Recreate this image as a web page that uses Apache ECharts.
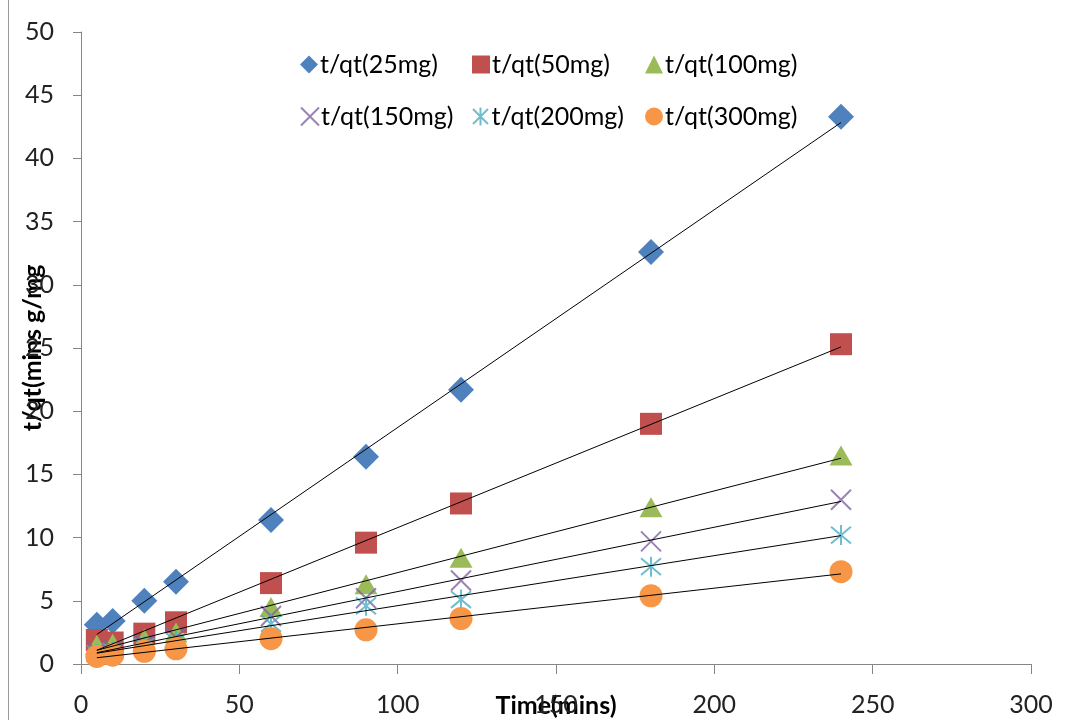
<!DOCTYPE html>
<html>
<head>
<meta charset="utf-8">
<script src="https://cdn.jsdelivr.net/npm/echarts@6/dist/echarts.min.js"></script>
<style>
  html, body { margin: 0; padding: 0; background: #fff; }
  #chart { width: 1070px; height: 720px; }
</style>
</head>
<body>
<div id="chart"></div>
<script>
// 数据
var times = [5, 10, 20, 30, 60, 90, 120, 180, 240];
var names = ['t/qt(25mg)', 't/qt(50mg)', 't/qt(100mg)', 't/qt(150mg)', 't/qt(200mg)', 't/qt(300mg)'];
var s25 = [3.1, 3.4, 5.0, 6.5, 11.4, 16.4, 21.7, 32.6, 43.3];
var s50 = [1.9, 1.7, 2.4, 3.3, 6.4, 9.6, 12.7, 19.0, 25.3];
var s100 = [1.5, 1.6, 2.0, 2.5, 4.5, 6.3, 8.4, 12.4, 16.5];
var s150 = [1.0, 1.2, 1.6, 2.1, 3.8, 5.2, 6.6, 9.7, 13.0];
var s200 = [0.8, 1.0, 1.4, 1.8, 3.2, 4.6, 5.1, 7.7, 10.2];
var s300 = [0.6, 0.7, 1.0, 1.2, 2.0, 2.7, 3.6, 5.4, 7.3];
var allValues = [s25, s50, s100, s150, s200, s300];

var colors = ['#4F81BD', '#C0504D', '#9BBB59', '#8064A2', '#4BACC6', '#F79646'];
var symbols = ['diamond', 'rect', 'triangle',
  'path://M0,0L10,10M10,0L0,10',
  'path://M0,0L10,10M10,0L0,10M5,-1L5,11',
  'circle'];
var sizes = [26, 22, [23, 20], 20, 20, 23];
var legendPos = [[295, 47], [467, 47], [640, 47], [295, 99], [467, 99], [640, 99]];

var font = 'Lato, "Open Sans", sans-serif';

//线性趋势线（最小二乘）
function trend(xs, ys) {
  var n = xs.length, sx = 0, sy = 0, sxy = 0, sxx = 0;
  for (var i = 0; i < n; i++) {
    sx += xs[i]; sy += ys[i]; sxy += xs[i] * ys[i]; sxx += xs[i] * xs[i];
  }
  var k = (n * sxy - sx * sy) / (n * sxx - sx * sx);
  var b = (sy - k * sx) / n;
  var x0 = xs[0], x1 = xs[n - 1];
  return [[x0, k * x0 + b], [x1, k * x1 + b]];
}

var series = [];
allValues.forEach(function (vals, i) {
  var isLine = i === 3 || i === 4;
  series.push({
    name: names[i],
    type: 'scatter',
    symbol: symbols[i],
    symbolSize: sizes[i],
    itemStyle: isLine
      ? { color: 'rgba(0,0,0,0)', borderColor: colors[i], borderWidth: 2 }
      : { color: colors[i], opacity: 1 },
    data: times.map(function (t, j) { return [t, vals[j]]; }),
    z: 2
  });
});
allValues.forEach(function (vals) {
  series.push({
    type: 'line',
    data: trend(times, vals),
    showSymbol: false,
    symbol: 'none',
    silent: true,
    lineStyle: { color: '#000', width: 1 },
    z: 3
  });
});

var legends = names.map(function (n, i) {
  return {
    data: [n],
    left: legendPos[i][0],
    top: legendPos[i][1],
    itemWidth: 18,
    itemHeight: 18,
    itemGap: 0,
    textStyle: { fontFamily: font, fontSize: 25, color: '#000', padding: [0, 0, 0, -3] }
  };
});

var charts = echarts.init(document.getElementById('chart'));
charts.setOption({
  animation: false,
  legend: legends,
  grid: { left: 81, right: 39, top: 32, bottom: 56, containLabel: false, outerBoundsMode: 'none' },
  xAxis: {
    type: 'value',
    min: 0, max: 300, interval: 50,
    name: 'Time(mins)',
    nameLocation: 'middle',
    nameGap: 29,
    nameMoveOverlap: false,
    nameTextStyle: { fontFamily: font, fontSize: 25, fontWeight: 'bold', color: '#000' },
    axisLine: { lineStyle: { color: '#868686' } },
    axisTick: { show: true, length: 10, lineStyle: { color: '#868686' } },
    axisLabel: { fontFamily: font, fontSize: 25, color: '#222', margin: 28 },
    splitLine: { show: false }
  },
  yAxis: {
    type: 'value',
    min: 0, max: 50, interval: 5,
    name: 't/qt(mins g/mg',
    nameLocation: 'middle',
    nameGap: 36,
    nameMoveOverlap: false,
    nameTextStyle: { fontFamily: font, fontSize: 25, fontWeight: 'bold', color: '#000' },
    axisLine: { show: true, lineStyle: { color: '#868686' } },
    axisTick: { show: true, length: 8, lineStyle: { color: '#868686' } },
    axisLabel: { fontFamily: font, fontSize: 25, color: '#222', margin: 27 },
    splitLine: { show: false }
  },
  graphic: [{
    type: 'line',
    shape: { x1: 8.5, y1: 0, x2: 8.5, y2: 720 },
    style: { stroke: '#999', lineWidth: 1 }
  }],
  series: series
});
window.addEventListener('resize', function () { charts.resize(); });
</script>
</body>
</html>
